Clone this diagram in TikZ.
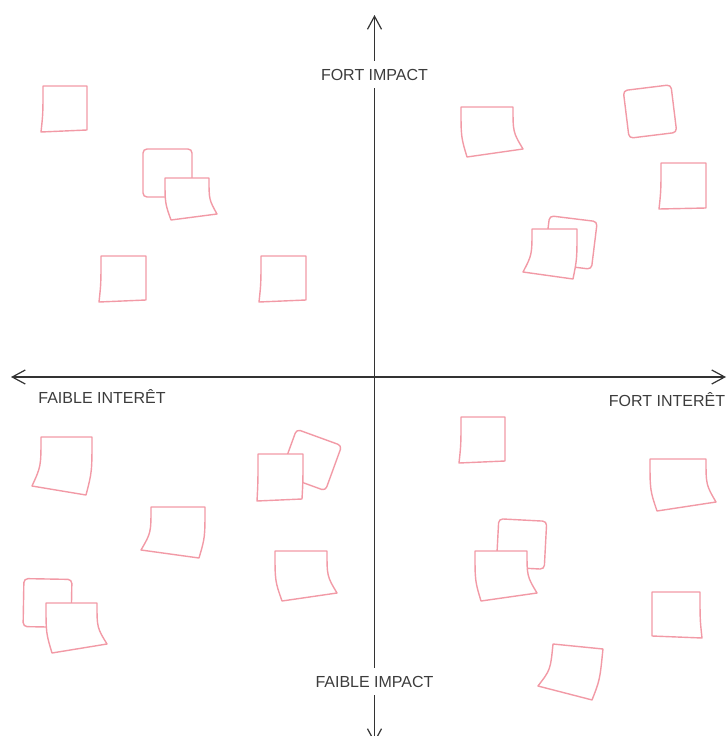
\documentclass[tikz,border=0pt]{standalone}
\usepackage{fontspec}
\setmainfont{Liberation Sans}
\usepackage{xcolor}
\usepackage{tikz}
\usetikzlibrary{arrows.meta}
\definecolor{notepink}{HTML}{F29AA6}
\definecolor{axisgray}{HTML}{333333}
\definecolor{labelgray}{HTML}{3C3C3C}
\tikzset{
  % Axis styles
  axisline/.style={{Straight Barb[length=13pt,width=14pt]}-{Straight Barb[length=13pt,width=14pt]}, line width=1.2pt, draw=axisgray},
  axislabel/.style={font=\fontsize{16}{18}\selectfont, text=labelgray, anchor=base, inner sep=0pt},
  cutlabel/.style={axislabel, fill=white, inner sep=8pt},
  % Sticky note styles
  stickynote/.style={draw=notepink, line width=1.4pt, fill=white, line join=round},
  roundnote/.style={stickynote, rounded corners=4pt},
}

\begin{document}
\begin{tikzpicture}[x=1pt, y=-1pt]
    \useasboundingbox (0,0) rectangle (726,736);

    % Axes
    \coordinate (west) at (11,377);
    \coordinate (east) at (726,377);
    \coordinate (north) at (374.5,15);
    \coordinate (south) at (374.5,743);
    \draw[axisline] (west) -- (east);
    \draw[axisline] (north) -- (south);

    % Labels
    \node[cutlabel] (highimpact) at (374.5,80) {FORT IMPACT};
    \node[cutlabel] (lowimpact) at (374.5,687) {FAIBLE IMPACT};
    \node[axislabel] (lowinterest) at (102,403) {FAIBLE INTERÊT};
    \node[axislabel] (highinterest) at (667,406) {FORT INTERÊT};

    % Rounded notes (behind)
    \draw[roundnote] (143,149) rectangle (192,197);
    \draw[roundnote, rotate around={7:(650,111.5)}] (626,87.5) rectangle (674,135.5);
    \draw[roundnote, rotate around={-7:(570.5,242.5)}] (546.5,218.5) rectangle (594.5,266.5);
    \draw[roundnote, rotate around={-20:(311,460)}] (287,436) rectangle (335,484);
    \draw[roundnote, rotate around={-1:(47.5,603)}] (23.5,579) rectangle (71.5,627);
    \draw[roundnote, rotate around={-3:(521.5,544)}] (497.5,520) rectangle (545.5,568);

    % Square and curled notes (front)
    \foreach \xa/\ya/\xb/\yb/\xc/\yc/\xd/\yd in {
        43/86/87/86/87/130/41/132,
        165/178/209/178/217/214/171/220,
        101/256/146/256/146/300/99/302,
        261/256/306/256/306/300/259/302,
        461/107/513/107/523/149/467/157,
        661/163/706/163/706/208/659/209,
        532/229/577/229/573/279/523/272,
        41/437/92/437/86/495/32/486,
        151/507/205/507/199/558/141/550,
        258/454/303/454/302/499/257/501,
        275/551/327/551/337/593/282/601,
        46/603/97/603/107/644/52/653,
        461/417/505/417/505/461/459/463,
        650/459/706/459/716/502/657/511,
        475/551/527/551/537/593/481/601,
        652/592/700/592/702/638/652/636}
      \draw[stickynote] (\xa,\ya) -- (\xb,\yb)
        .. controls (\xb,{\yb+0.6*(\yc-\yb)}) .. (\xc,\yc) -- (\xd,\yd)
        .. controls (\xa,{\ya+0.6*(\yd-\ya)}) .. (\xa,\ya) -- cycle;

    % Tilted curled note
    \begin{scope}[shift={(553,644)}, rotate=-5.7]
      \draw[stickynote] (0,0) -- (50.2,0) .. controls (50.2,31) .. (44.4,51.8)
        -- (-10.8,43.3) .. controls (0,26) .. (0,0) -- cycle;
    \end{scope}
\end{tikzpicture}
\end{document}
